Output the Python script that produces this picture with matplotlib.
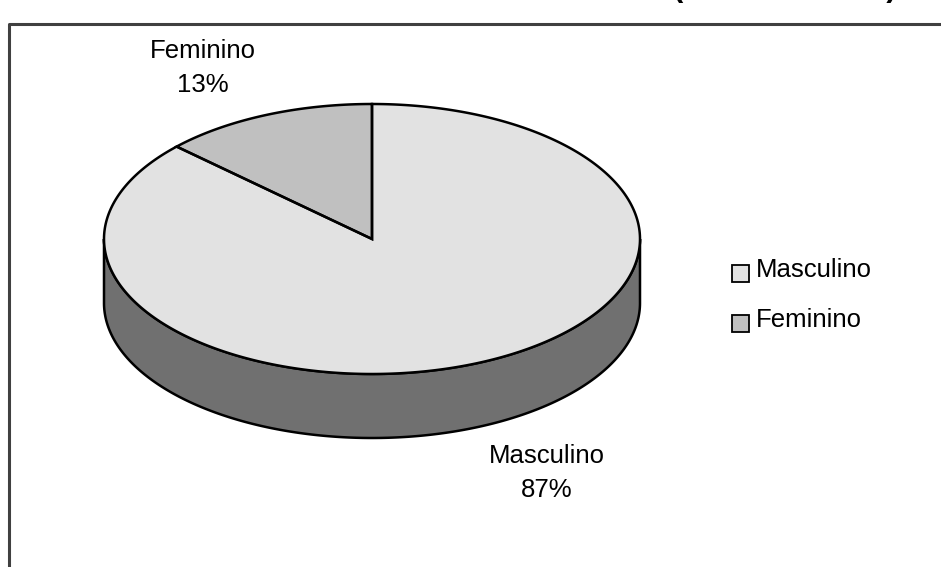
import numpy as np
import matplotlib
matplotlib.use("Agg")
import matplotlib.pyplot as plt
from matplotlib.patches import Polygon, Rectangle

# ---- data ----
categories = ["Masculino", "Feminino"]
shares = [87, 13]
pct_labels = ["87%", "13%"]
title_text = "Sexo dos Entrevistados (Amostra Total)"

top_colors = ["#e2e2e2", "#c0c0c0"]
side_color = "#707070"

plt.rcParams['font.family'] = ['Liberation Sans', 'DejaVu Sans']
plt.rcParams['hatch.linewidth'] = 0.5
plt.rcParams['hatch.color'] = '#d2d2d2'

W, H = 941, 567
fig = plt.figure(figsize=(W / 100, H / 100), dpi=100)
ax = fig.add_axes([0, 0, 1, 1])
ax.set_xlim(0, W)
ax.set_ylim(H, 0)
ax.axis('off')

# frame (clipped at right/bottom)
ax.plot([9, 9, W + 5], [H + 5, 24, 24], color='#404040', lw=2.2, solid_capstyle='butt')

# title (mostly clipped above the figure, as in the reference)
ax.text(897, -4, title_text, ha='right', va='baseline', fontsize=22,
        fontweight='bold', clip_on=False)

# pie geometry
cx, cy, rx, ry, depth = 372, 239, 268, 135, 64

def ell(theta_deg, dy=0.0):
    t = np.radians(theta_deg)
    return np.column_stack([cx + rx * np.cos(t), cy - ry * np.sin(t) + dy])

# wedge angles: start at 90 deg; Feminino counter-clockwise, Masculino clockwise
fem_span = shares[1] / sum(shares) * 360
wedges = {
    "Feminino": (90, 90 + fem_span),
    "Masculino": (90 + fem_span, 450),
}

# side (front half, all Masculino)
front = np.linspace(180, 360, 300)
side_pts = np.vstack([ell(front), ell(front[::-1], depth)])
ax.add_patch(Polygon(side_pts, closed=True, facecolor=side_color,
                     edgecolor='none', zorder=2))
ax.add_patch(Polygon(side_pts, closed=True, facecolor='none',
                     edgecolor='black', lw=1.8, zorder=3))

# top faces
for i, cat in enumerate(categories):
    a0, a1 = wedges[cat]
    th = np.linspace(a0, a1, 400)
    pts = np.vstack([[cx, cy], ell(th)])
    ax.add_patch(Polygon(pts, closed=True, facecolor=top_colors[i],
                         edgecolor='none',
                         hatch='//////' if cat == "Masculino" else None, zorder=4))
    ax.add_patch(Polygon(pts, closed=True, facecolor='none',
                         edgecolor='black', lw=1.8, zorder=5, joinstyle='miter'))

# data labels
label_pos = {"Masculino": (547, 463), "Feminino": (203, 58)}
for i, cat in enumerate(categories):
    x, y = label_pos[cat]
    ax.text(x, y, cat, ha='center', va='baseline', fontsize=18.5)
    ax.text(x, y + 34, pct_labels[i], ha='center', va='baseline', fontsize=18.5)

# legend
for i, cat in enumerate(categories):
    y0 = 265 + 50 * i
    ax.add_patch(Rectangle((732, y0), 17, 17, facecolor=top_colors[i],
                           edgecolor='none', zorder=6))
    ax.add_patch(Rectangle((732, y0), 17, 17, facecolor='none',
                           edgecolor='black', lw=1.3, zorder=7))
    ax.text(756, y0 + 12, cat, ha='left', va='baseline', fontsize=18.5)

fig.savefig("out.png", dpi=100)
